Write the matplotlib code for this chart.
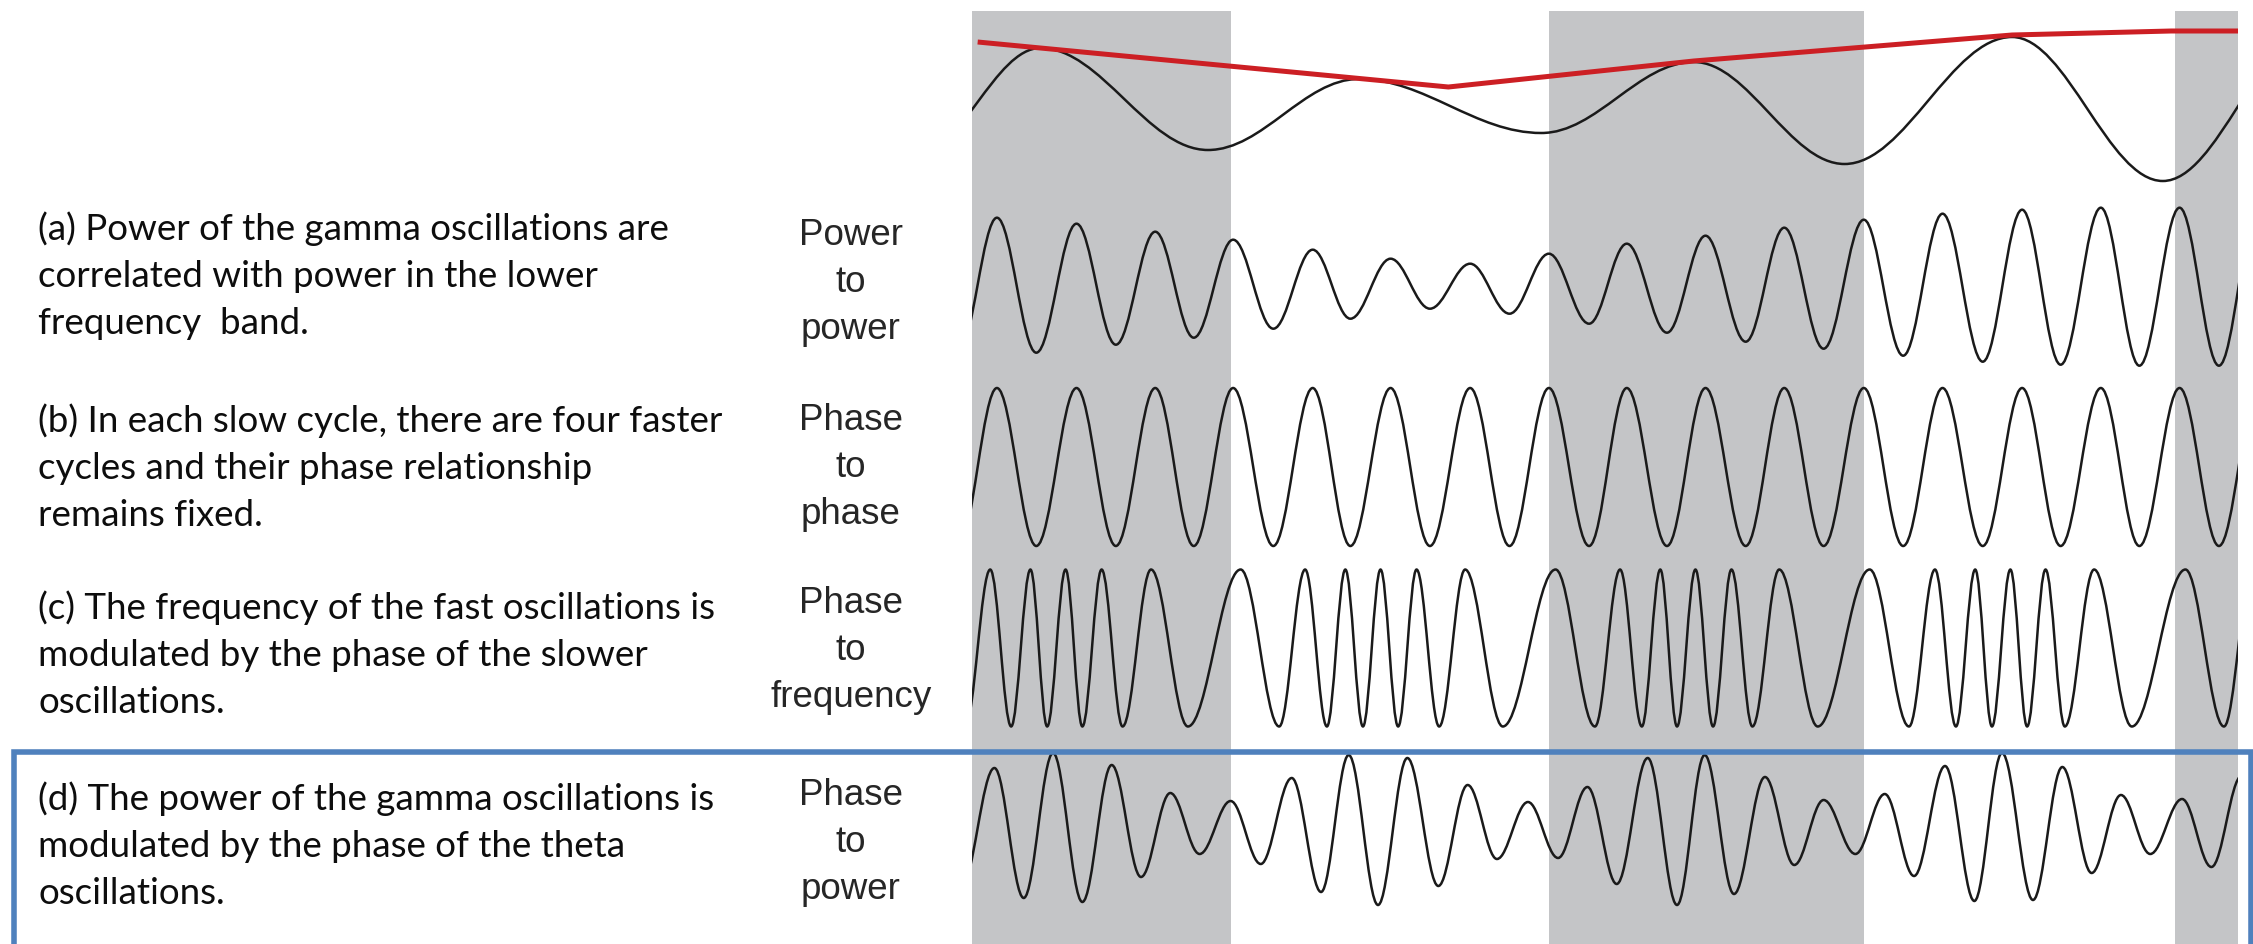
import numpy as np
import matplotlib
matplotlib.use("Agg")
import matplotlib.pyplot as plt
from matplotlib.path import Path
from matplotlib.patches import PathPatch, Rectangle

# time axis in ms, extrema of each trace (first/last ones sit just outside the window)
theta_t = [-17, 20.5, 70.5, 115.5, 170, 215.5, 260.5, 310.5, 355.5, 400.5]
theta_v = [-50, 58, -44, 27, -27, 44, -58, 69, -75, 75]

# theta power envelope (red)
env_t = [1.75, 142.25, 215.5, 310.5, 358, 378]
env_v = [64, 19, 45, 71, 75, 75]

# gamma extrema shared by (a) and (b)
gamma_t = [-4, 7.5, 19.25, 31.25, 43, 54.75, 66.25, 78, 90, 101.75, 113, 125,
           136.75, 148.75, 160.5, 172.25, 184.25, 195.5, 207.5, 219, 231, 242.5,
           254.25, 266.25, 278, 289.75, 301.75, 313.5, 325, 337, 348.5, 360.5,
           372.25, 384]
pow_pow_v = [-66, 68, -67, 62, -59, 54, -52, 46, -43, 36, -33, 27, -23, 22, -28,
             32, -38, 42, -47, 50, -56, 58, -63, 66, -70, 72, -76, 76, -79, 78,
             -80, 78, -80, 79]
ph_ph_v = [-79, 79] * 17

# (c) phase to frequency
ph_freq_t = [-2, 5.5, 11.75, 17.5, 22.5, 28, 33, 38.75, 45, 53.5, 64.5, 80.25,
             91.75, 99.5, 106, 111.5, 116.75, 122, 127.25, 132.75, 139.5, 147.25,
             158.5, 174.25, 186, 193.5, 200, 205.5, 210.5, 216, 221.25, 226.75,
             233, 241, 252.5, 268, 279.75, 287.5, 293.75, 299.5, 304.5, 310, 315,
             320.5, 326.25, 335, 346.25, 362.25, 373.75, 382.25]
ph_freq_v = [-78.5, 78.5] * 25

# (d) phase to power
ph_pow_t = [-3.25, 6.75, 15.5, 24.25, 33, 41.75, 50.5, 59.25, 68, 77.25, 86.25,
            95.5, 104.25, 112.5, 121.25, 130, 139.25, 148, 156.75, 166, 175,
            183.75, 192.5, 201.75, 210.5, 218.75, 227.5, 236.75, 245.5, 254.25,
            263.75, 272.5, 281.25, 290.5, 299.25, 307.5, 316.75, 325.5, 334.25,
            343, 351.75, 361.25, 370, 379]
ph_pow_v = [-60, 60, -70, 75, -74, 63, -49, 35, -26, 27, -36, 50, -64, 73, -77,
            70, -58, 43, -31, 26, -30, 41, -56, 70, -77, 73, -66, 51, -37, 28,
            -26, 34, -48, 62, -73, 75, -72, 61, -45, 33, -26, 29, -39, 52]

band_start = [0, 172.25, 359.25]
band_end = [77.5, 266.25, 378]

descriptions = [
    ["(a) Power of the gamma oscillations are",
     "correlated with power in the lower",
     "frequency  band."],
    ["(b) In each slow cycle, there are four faster",
     "cycles and their phase relationship",
     "remains fixed."],
    ["(c) The frequency of the fast oscillations is",
     "modulated by the phase of the slower",
     "oscillations."],
    ["(d) The power of the gamma oscillations is",
     "modulated by the phase of the theta",
     "oscillations."],
]
coupling = [["Power", "to", "power"],
            ["Phase", "to", "phase"],
            ["Phase", "to", "frequency"],
            ["Phase", "to", "power"]]

W, H = 2253, 945
fig = plt.figure(figsize=(W / 100, H / 100), dpi=100)

# wave panel
ax = fig.add_axes([971.8 / W, 0, 1266.4 / W, 1])
ax.set_xlim(0, 378)
ax.set_ylim(H, 0)
ax.axis("off")

for s, e in zip(band_start, band_end):
    ax.axvspan(s, e, ymin=0, ymax=(H - 12) / H, color="#c4c5c7", lw=0, zorder=0)


def wave(times, vals, base):
    # half-cosine between extrema, drawn as cubic beziers
    k = 1 - 2 / np.pi
    verts = [(times[0], base - vals[0])]
    codes = [Path.MOVETO]
    for i in range(len(times) - 1):
        t0, t1 = times[i], times[i + 1]
        y0, y1 = base - vals[i], base - vals[i + 1]
        h = t1 - t0
        verts += [(t0 + k * h, y0), (t1 - k * h, y1), (t1, y1)]
        codes += [Path.CURVE4] * 3
    p = PathPatch(Path(verts, codes), fill=False, ec="#1a1a1a", lw=1.8,
                  capstyle="round", joinstyle="round", zorder=2)
    ax.add_patch(p)


row_base = [107, 286.7, 468, 649, 829]
wave(theta_t, theta_v, row_base[0])
wave(gamma_t, pow_pow_v, row_base[1])
wave(gamma_t, ph_ph_v, row_base[2])
wave(ph_freq_t, ph_freq_v, row_base[3])
wave(ph_pow_t, ph_pow_v, row_base[4])

ax.plot(env_t, [row_base[0] - v for v in env_v], color="#cc1f24", lw=3.6,
        solid_capstyle="butt", zorder=3)

# text on the left
text_base = [240, 432, 619, 810]
label_base = [245, 430, 613, 805]
step = 47
for i in range(4):
    for j, line in enumerate(descriptions[i]):
        fig.text(38 / W, 1 - (text_base[i] + j * step) / H, line,
                 family="Lato", fontsize=26.5, color="#0d0d0d",
                 ha="left", va="baseline")
    for j, line in enumerate(coupling[i]):
        fig.text(851 / W, 1 - (label_base[i] + j * step) / H, line,
                 family="Liberation Sans", fontsize=26.5, color="#262626",
                 ha="center", va="baseline")

# highlight box round (d)
fig.patches.append(Rectangle((14 / W, -0.05), (2251 - 14) / W, 1.05 - 753 / H,
                             transform=fig.transFigure, fill=False,
                             ec="#4f81bd", lw=4, zorder=5))

fig.savefig("out.png", dpi=100)
